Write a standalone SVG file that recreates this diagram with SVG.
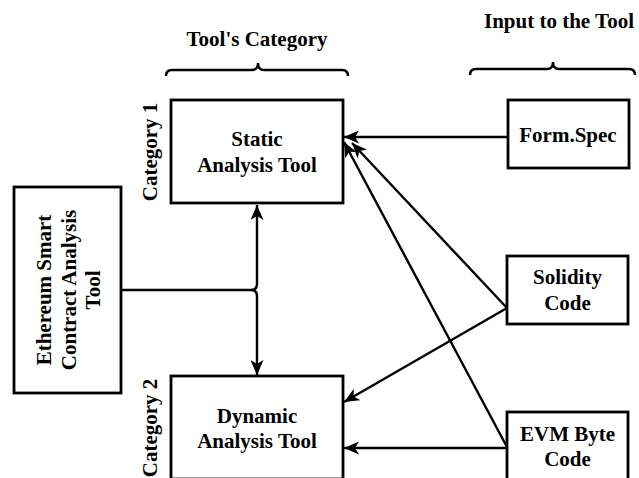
<svg xmlns="http://www.w3.org/2000/svg" width="639" height="478" viewBox="0 0 639 478">
<style>
.t{font-family:"Liberation Serif","Times New Roman",serif;font-weight:bold;font-size:21px;fill:#000;text-anchor:middle}
.box{fill:#fff;stroke:#000;stroke-width:2.8}
.c{fill:none;stroke:#000;stroke-width:2.4}
.br{fill:none;stroke:#000;stroke-width:2.4}
</style>
<defs>
<marker id="ah" viewBox="0 0 15 13" refX="15" refY="6.5" markerWidth="15" markerHeight="13" markerUnits="userSpaceOnUse" orient="auto">
<path d="M0,0 L15,6.5 L0,13 L4,6.5 z" fill="#000"/>
</marker>
</defs>
<rect width="639" height="478" fill="#fff"/>
<g id="headers">
<text class="t" x="257" y="46">Tool's Category</text>
<path class="br" d="M166,76 Q166,70 172,70 L252,70 Q258,70 258,63 Q258,70 264,70 L342,70 Q348,70 348,76"/>
<text class="t" x="559" y="28">Input to the Tool</text>
<path class="br" d="M470,75 Q470,69 476,69 L547,69 Q553,69 553,62 Q553,69 559,69 L629,69 Q635,69 635,75"/>
<text class="t" transform="translate(157,152) rotate(-90)">Category 1</text>
<text class="t" transform="translate(157,428) rotate(-90)">Category 2</text>
</g>
<g id="connectors">
<path class="c" d="M121,290 L251,290 Q257,290 257,284 L257,205" marker-end="url(#ah)"/>
<path class="c" d="M251,290 Q257,290 257,296 L257,375" marker-end="url(#ah)"/>
<path class="c" d="M508,137 L344,137" marker-end="url(#ah)"/>
<path class="c" d="M507,308 L352,143" marker-end="url(#ah)"/>
<path class="c" d="M507,447 L344,142" marker-end="url(#ah)"/>
<path class="c" d="M507,308 L344,402" marker-end="url(#ah)"/>
<path class="c" d="M507,448 L344,448" marker-end="url(#ah)"/>
</g>
<g id="ethereum">
<rect class="box" x="14" y="187" width="107" height="206"/>
<text class="t" transform="translate(68,290) rotate(-90)"><tspan x="0" y="-17">Ethereum Smart</tspan><tspan x="0" y="8">Contract Analysis</tspan><tspan x="0" y="32">Tool</tspan></text>
</g>
<g id="static">
<rect class="box" x="171" y="100" width="172" height="103"/>
<text class="t"><tspan x="257" y="146">Static</tspan><tspan x="257" y="172">Analysis Tool</tspan></text>
</g>
<g id="dynamic">
<rect class="box" x="171" y="376" width="172" height="103"/>
<text class="t"><tspan x="257" y="423">Dynamic</tspan><tspan x="257" y="448">Analysis Tool</tspan></text>
</g>
<g id="formspec">
<rect class="box" x="508" y="100" width="121" height="68"/>
<text class="t" x="568" y="142">Form.Spec</text>
</g>
<g id="solidity">
<rect class="box" x="507" y="256" width="121" height="68"/>
<text class="t"><tspan x="567.5" y="284">Solidity</tspan><tspan x="567.5" y="310">Code</tspan></text>
</g>
<g id="evm">
<rect class="box" x="507" y="412" width="121" height="68"/>
<text class="t"><tspan x="567.5" y="441">EVM Byte</tspan><tspan x="567.5" y="466">Code</tspan></text>
</g>
</svg>
